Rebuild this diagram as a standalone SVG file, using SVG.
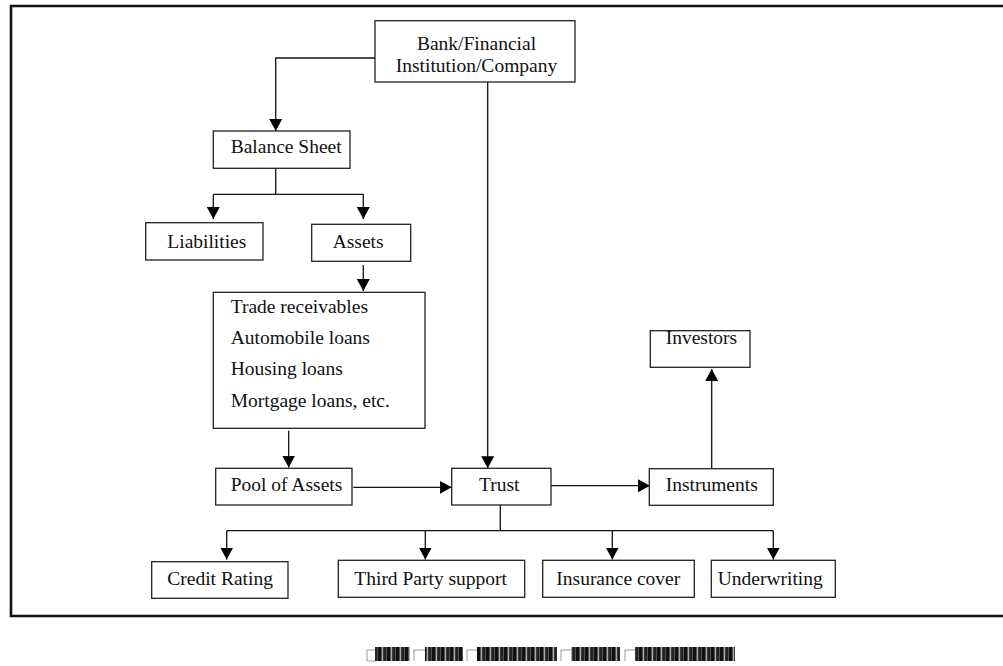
<svg xmlns="http://www.w3.org/2000/svg" width="1003" height="666" viewBox="0 0 1003 666">
<style>
.box{fill:#fff;stroke:#222;stroke-width:1.3}
.t{font-family:"Liberation Serif","Times New Roman",serif;font-size:19.5px;fill:#111}
.c{text-anchor:middle}
.ln{fill:none;stroke:#111;stroke-width:1.3}
.ar{fill:none;stroke:#111;stroke-width:1.3;marker-end:url(#ah)}
.cap{fill:url(#stripes)}
.br{fill:none;stroke:#999;stroke-width:1}
</style>
<defs>
<marker id="ah" markerUnits="userSpaceOnUse" markerWidth="13" markerHeight="14" refX="12" refY="6.5" orient="auto" viewBox="0 0 13 13">
<path d="M0,0 L12,6.5 L0,13 z" fill="#000"/>
</marker>
<pattern id="stripes" patternUnits="userSpaceOnUse" width="9" height="14">
<rect width="9" height="14" fill="#555"/>
<rect x="0" width="3" height="14" fill="#111"/>
<rect x="4" width="1" height="14" fill="#aaa"/>
<rect x="5.5" width="2.5" height="14" fill="#222"/>
</pattern>
</defs>
<rect width="1003" height="666" fill="#fff"/>
<path d="M1005,6 H11 V616 H1005" fill="none" stroke="#111" stroke-width="2.6"/>

<g id="connectors">
<path class="ar" d="M375,58 H275.7 V131"/>
<path class="ar" d="M487.7,82 V468.3"/>
<path class="ln" d="M275.7,168.3 V194.3 M213.3,194.3 H363.3"/>
<path class="ar" d="M213.3,194.3 V219"/>
<path class="ar" d="M363.3,194.3 V219"/>
<path class="ar" d="M363.3,265 V291"/>
<path class="ar" d="M288.7,430.7 V467.5"/>
<path class="ar" d="M353.3,487.3 H451.7"/>
<path class="ar" d="M551,485.7 H650"/>
<path class="ar" d="M711.7,468.7 V369"/>
<path class="ln" d="M500.3,505 V530.7 M226.7,530.7 H773.3"/>
<path class="ar" d="M226.7,530.7 V559.5"/>
<path class="ar" d="M425.3,530.7 V559.5"/>
<path class="ar" d="M612.3,530.7 V559.5"/>
<path class="ar" d="M773.3,530.7 V559.5"/>
</g>

<g id="bank">
<rect class="box" x="375" y="20.7" width="200" height="61.3"/>
<text class="t c" x="476.5" y="50">Bank/Financial</text>
<text class="t c" x="476.5" y="72">Institution/Company</text>
</g>
<g id="balance-sheet">
<rect class="box" x="213.3" y="131" width="136.7" height="37.3"/>
<text class="t" x="230.7" y="153.3">Balance Sheet</text>
</g>
<g id="liabilities">
<rect class="box" x="145.7" y="222.7" width="117.3" height="37.3"/>
<text class="t" x="167.3" y="248.3">Liabilities</text>
</g>
<g id="assets">
<rect class="box" x="311.7" y="224.3" width="99" height="37"/>
<text class="t" x="332.7" y="248.3">Assets</text>
</g>
<g id="asset-list">
<rect class="box" x="213.3" y="292.3" width="211.7" height="136"/>
<text class="t" x="230.7" y="313.3">Trade receivables</text>
<text class="t" x="230.7" y="344">Automobile loans</text>
<text class="t" x="230.7" y="375">Housing loans</text>
<text class="t" x="230.7" y="406.7">Mortgage loans, etc.</text>
</g>
<g id="pool">
<rect class="box" x="215.7" y="468.3" width="136.3" height="36.7"/>
<text class="t" x="230.7" y="490.7">Pool of Assets</text>
</g>
<g id="trust">
<rect class="box" x="451.7" y="468.3" width="99.3" height="36.7"/>
<text class="t" x="479" y="490.7">Trust</text>
</g>
<g id="instruments">
<rect class="box" x="649.3" y="468.7" width="124" height="36.6"/>
<text class="t" x="665.7" y="490.7">Instruments</text>
</g>
<g id="investors">
<rect class="box" x="650.3" y="330.7" width="99.7" height="36.6"/>
<text class="t" x="665.7" y="344">Investors</text>
</g>
<g id="credit-rating">
<rect class="box" x="151.7" y="561.7" width="136.3" height="36.6"/>
<text class="t" x="167.3" y="585">Credit Rating</text>
</g>
<g id="third-party">
<rect class="box" x="338.3" y="560.3" width="186.4" height="37"/>
<text class="t" x="354.3" y="585">Third Party support</text>
</g>
<g id="insurance">
<rect class="box" x="542.7" y="560.3" width="151.6" height="37"/>
<text class="t" x="556.3" y="585">Insurance cover</text>
</g>
<g id="underwriting">
<rect class="box" x="711.3" y="560.3" width="124" height="37"/>
<text class="t" x="717.7" y="585">Underwriting</text>
</g>

<g id="caption-garbled">
<path class="br" d="M375,650 H367 V661 H375"/>
<rect class="cap" x="375" y="647" width="35" height="14"/>
<path class="br" d="M425,650 H414 V661"/>
<rect class="cap" x="425" y="647" width="38" height="14"/>
<path class="br" d="M477,650 H467 V661"/>
<rect class="cap" x="477" y="647" width="80" height="14"/>
<path class="br" d="M571,650 H561 V661"/>
<rect class="cap" x="571" y="647" width="49" height="14"/>
<path class="br" d="M635,650 H625 V661"/>
<rect class="cap" x="635" y="647" width="100" height="14"/>
</g>
</svg>
